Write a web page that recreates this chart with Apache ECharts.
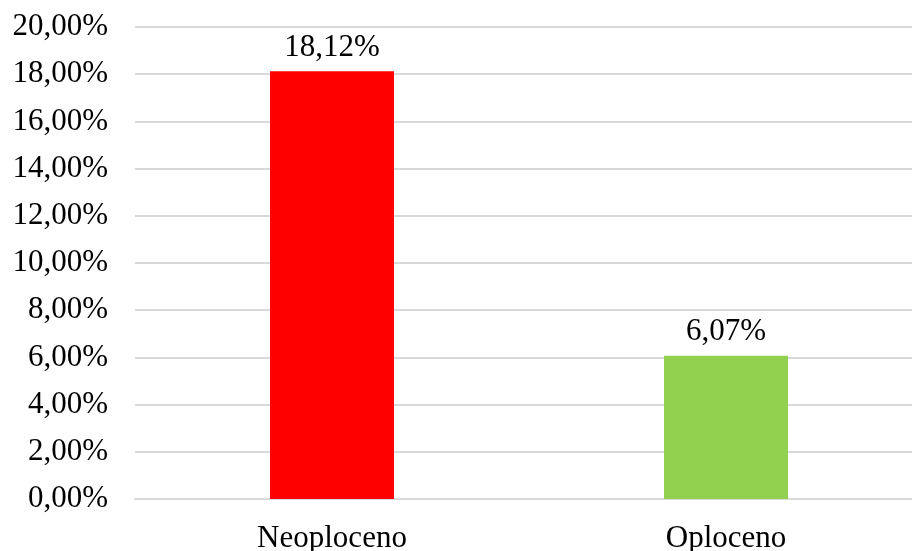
<!DOCTYPE html>
<html>
<head>
<meta charset="utf-8">
<script src="https://cdn.jsdelivr.net/npm/echarts@6/dist/echarts.min.js"></script>
<style>html,body{margin:0;padding:0;background:#fff}#c{width:912px;height:551px}</style>
</head>
<body>
<div id="c"></div>
<script>
var categories = ['Neoploceno', 'Oploceno'];
var values = [18.12, 6.07];
var colors = ['#FF0000', '#92D050'];

function fmt(v) { return v.toFixed(2).replace('.', ',') + '%'; }

var chart = echarts.init(document.getElementById('c'), null, {renderer: 'canvas'});
chart.setOption({
  animation: false,
  grid: {left: 135, width: 788, top: 27, bottom: 52, containLabel: false, outerBoundsMode: 'none'},
  xAxis: {
    type: 'category',
    data: categories,
    axisLine: {show: true, lineStyle: {color: '#d9d9d9', width: 2}},
    axisTick: {show: false},
    axisLabel: {fontFamily: 'Liberation Serif', fontSize: 31, color: '#000', margin: 24}
  },
  yAxis: {
    type: 'value',
    min: 0, max: 20, interval: 2,
    axisLine: {show: false},
    axisTick: {show: false},
    splitLine: {lineStyle: {color: '#d9d9d9', width: 2}},
    axisLabel: {fontFamily: 'Liberation Serif', fontSize: 31, color: '#000', margin: 27, formatter: fmt}
  },
  series: [{
    type: 'bar',
    barWidth: 124,
    data: values.map(function (v, i) { return {value: v, itemStyle: {color: colors[i]}}; }),
    label: {show: true, position: 'top', distance: 8, fontFamily: 'Liberation Serif', fontSize: 31, color: '#000', formatter: function (p) { return fmt(p.value); }}
  }]
});
</script>
</body>
</html>
